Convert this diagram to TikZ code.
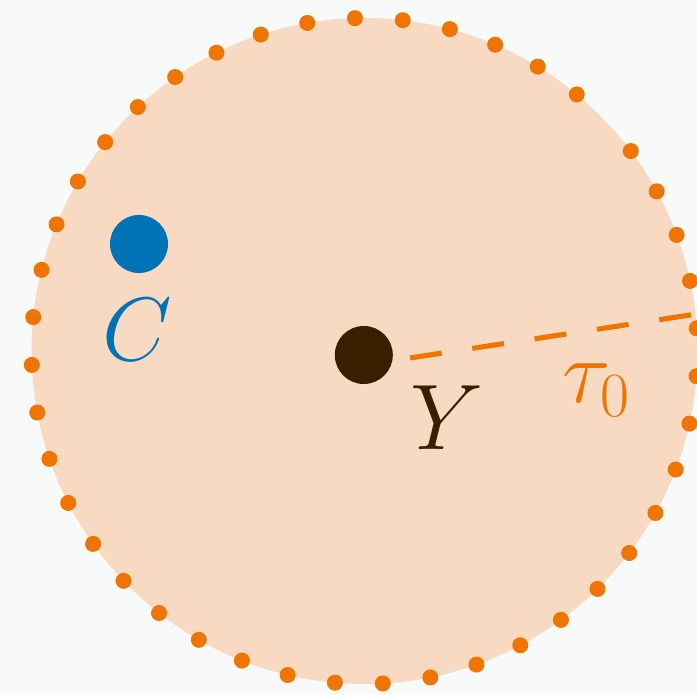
\documentclass[tikz,border=0pt]{standalone}
\usepackage{fix-cm}
\usetikzlibrary{positioning,calc}
\definecolor{bgc}{HTML}{F8F9F9}
\definecolor{discc}{HTML}{F7DAC1}
\definecolor{orng}{HTML}{F07400}
\definecolor{blu}{HTML}{0073B7}
\definecolor{brwn}{HTML}{3B1E00}

\begin{document}
\begin{tikzpicture}[x=0.01cm,y=-0.01cm,
  dot/.style={circle,fill=#1,inner sep=0pt,minimum size=0.58cm},
  rim/.style={circle,fill=orng,inner sep=0pt,minimum size=0.16cm},
  tau/.style={draw=orng,line width=1.45pt,dash pattern=on 0.32cm off 0.31cm},
  lab/.style={inner sep=0pt,font=\fontsize{25.6}{30}\selectfont}]
  \fill[bgc] (0,0) rectangle (697,695);
  \useasboundingbox (0,0) rectangle (697,695);
  \coordinate (o) at (364.5,351);
  \fill[discc] (o) circle[radius=333];
  % dotted rim
  \foreach \i in {0,...,42} \node[rim] (r\i) at ($(o)+(8.25*\i-36.9:333)$) {};
  \coordinate (t0) at (410,358);
  \coordinate (t1) at ($(o)+(-6.35:333)$);
  \draw[tau] (t0) -- (t1);
  \node[dot=blu] (cdot) at (139,244) {};
  \node[dot=brwn] (ydot) at (363.8,355) {};
  \node[lab,text=blu,below=0.25cm of cdot,xshift=-0.02cm] (clab) {$C$};
  \node[lab,text=brwn,font=\fontsize{26.5}{30}\selectfont] (ylab) at (447,418) {$Y$};
  \node[lab,text=orng] (tlab) at (597,390) {$\tau_0$};
\end{tikzpicture}
\end{document}
